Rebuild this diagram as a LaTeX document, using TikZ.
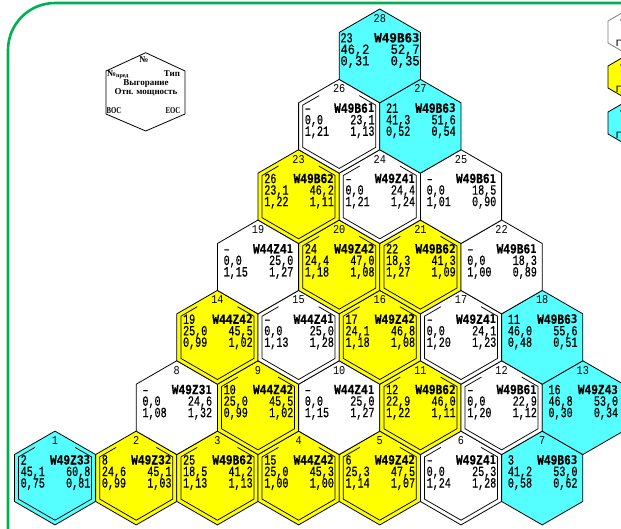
\documentclass[tikz,border=0pt]{standalone}
\usepackage{fontspec}
\setmainfont{Liberation Serif}
\newfontfamily\monofont[FakeBold=0.7]{Liberation Mono}
\newfontfamily\labfont{Liberation Mono}
\newfontfamily\lastfont{DejaVu Sans}
\newfontfamily\legfont{Liberation Serif}
\definecolor{hcyan}{HTML}{55FFFF}
\definecolor{hyellow}{HTML}{FFFF00}
\definecolor{framegreen}{HTML}{00B050}
\tikzset{
  hexline/.style={draw=black, line width=0.8pt},
  innerline/.style={draw=black, line width=0.75pt},
  numtxt/.style={inner sep=0pt, text height=8.5pt, text depth=2pt, font=\monofont\fontsize{14}{14}\selectfont},
  labtxt/.style={inner sep=0pt, text height=8pt, text depth=1pt, font=\labfont\fontsize{12}{12}\selectfont},
  legtxt/.style={inner sep=0pt, text height=6pt, text depth=1.5pt, font=\legfont\bfseries\fontsize{9}{9}\selectfont},
}
\newcommand\LastDigit[1]{{\lastfont\bfseries\fontsize{12}{12}\selectfont #1}}
\newcommand\NumT[1]{\scalebox{0.72}[1]{#1}}
\newcommand\TypeT[2]{\scalebox{0.8}[1]{\bfseries #1\LastDigit{#2}}}
\newcommand\LabT[1]{\scalebox{0.85}[1]{#1}}
% id, row, index, fill, double border (1/0)
\newcommand\HexCell[5]{%
  \pgfmathsetmacro\off{ifthenelse(#2==0,0,1+#2/2)}%
  \pgfmathsetmacro\cx{55+(\off+#3)*81.2}%
  \pgfmathsetmacro\cy{478-#2*70.35}%
  \def\hid{#1}%
  \begin{scope}[shift={(\cx,\cy)}]
    \path[fill=#4, hexline] (0,-46.9) -- (40.6,-23.45) -- (40.6,23.45) -- (0,46.9) -- (-40.6,23.45) -- (-40.6,-23.45) -- cycle;
    \ifnum#5=1
      \draw[innerline] (-20.1,-30.6) -- (-36.5,-21.1) -- (-36.5,21.1) -- (0,42.2) -- (36.5,21.1) -- (36.5,-21.1) -- (20.1,-30.6);
    \fi
    \node[labtxt, anchor=base] (n#1) at (0,-33.5) {\LabT{#1}};
  \end{scope}}
% prev, type base, last digit, b1, b2, p1, p2
\newcommand\HexText[7]{%
  \begin{scope}[shift={(\cx,\cy)}]
    \node[numtxt, anchor=base west] (a\hid) at (-34.5,-13.5) {\NumT{#1}};
    \node[numtxt, anchor=base east] (t\hid) at (35.5,-13.5) {\TypeT{#2}{#3}};
    \node[numtxt, anchor=base west] (b\hid) at (-34.5,-2) {\NumT{#4}};
    \node[numtxt, anchor=base east] (c\hid) at (35.5,-2) {\NumT{#5}};
    \node[numtxt, anchor=base west] (d\hid) at (-34.5,9.5) {\NumT{#6}};
    \node[numtxt, anchor=base east] (e\hid) at (35.5,9.5) {\NumT{#7}};
  \end{scope}}
\begin{document}
\begin{tikzpicture}[x=1pt,y=-1pt]
\useasboundingbox (0,0) rectangle (621,528);
\clip (0,0) rectangle (621,528);
\fill[white] (0,0) rectangle (621,528);

% green frame
\draw[framegreen, line width=2.6pt, rounded corners=47pt] (8,560) -- (8,3) -- (660,3);

% legend hexagon
\draw[line width=0.8pt] (145.7,52.7) -- (185,71) -- (185,114) -- (145.7,131) -- (106,114) -- (106,71) -- cycle;
\node[legtxt] (lgno) at (144,60) {№};
\node[legtxt] (lgprev) at (118,74) {№\textsubscript{пред}};
\node[legtxt] (lgtype) at (172,74) {Тип};
\node[legtxt] (lgburn) at (146,83) {Выгорание};
\node[legtxt] (lgpow) at (146,92) {Отн. мощность};
\node[legtxt] (lgboc) at (114,111) {\scalebox{0.75}[1]{BOC}};
\node[legtxt] (lgeoc) at (173,111) {\scalebox{0.75}[1]{EOC}};

% colour legend at right (cut off)
\path[fill=white, draw=gray, line width=0.8pt] (627,10) -- (646,21) -- (646,43) -- (627,54) -- (608,43) -- (608,21) -- cycle;
\path[fill=hyellow, hexline] (627,55) -- (646,66) -- (646,88) -- (627,99) -- (608,88) -- (608,66) -- cycle;
\path[fill=hcyan, hexline] (627,101) -- (646,112) -- (646,134) -- (627,145) -- (608,134) -- (608,112) -- cycle;
\node[labtxt, anchor=base west] (lw1) at (619,23) {–};
\node[labtxt, anchor=base west] (lw2) at (615,46) {г};
\node[labtxt, anchor=base west] (ly1) at (619,68) {–};
\node[labtxt, anchor=base west] (ly2) at (615,92) {г};
\node[labtxt, anchor=base west] (lc1) at (619,114) {–};
\node[labtxt, anchor=base west] (lc2) at (615,138) {г};

% row 0
\HexCell{1}{0}{0}{hcyan}{1}\HexText{2}{W49Z3}{3}{45,1}{60,8}{0,75}{0,81}
\HexCell{2}{0}{1}{hyellow}{1}\HexText{8}{W49Z3}{2}{24,6}{45,1}{0,99}{1,03}
\HexCell{3}{0}{2}{hyellow}{1}\HexText{25}{W49B6}{2}{18,5}{41,2}{1,13}{1,13}
\HexCell{4}{0}{3}{hyellow}{1}\HexText{15}{W44Z4}{2}{25,0}{45,3}{1,00}{1,00}
\HexCell{5}{0}{4}{hyellow}{1}\HexText{6}{W49Z4}{2}{25,3}{47,5}{1,14}{1,07}
\HexCell{6}{0}{5}{white}{1}\HexText{–}{W49Z4}{1}{0,0}{25,3}{1,24}{1,28}
\HexCell{7}{0}{6}{hcyan}{0}\HexText{3}{W49B6}{3}{41,2}{53,0}{0,58}{0,62}
% row 1
\HexCell{8}{1}{0}{white}{0}\HexText{–}{W49Z3}{1}{0,0}{24,6}{1,08}{1,32}
\HexCell{9}{1}{1}{hyellow}{1}\HexText{10}{W44Z4}{2}{25,0}{45,5}{0,99}{1,02}
\HexCell{10}{1}{2}{white}{0}\HexText{–}{W44Z4}{1}{0,0}{25,0}{1,15}{1,27}
\HexCell{11}{1}{3}{hyellow}{1}\HexText{12}{W49B6}{2}{22,9}{46,0}{1,22}{1,11}
\HexCell{12}{1}{4}{white}{1}\HexText{–}{W49B6}{1}{0,0}{22,9}{1,20}{1,12}
\HexCell{13}{1}{5}{hcyan}{0}\HexText{16}{W49Z4}{3}{46,8}{53,0}{0,30}{0,34}
% row 2
\HexCell{14}{2}{0}{hyellow}{1}\HexText{19}{W44Z4}{2}{25,0}{45,5}{0,99}{1,02}
\HexCell{15}{2}{1}{white}{1}\HexText{–}{W44Z4}{1}{0,0}{25,0}{1,13}{1,28}
\HexCell{16}{2}{2}{hyellow}{1}\HexText{17}{W49Z4}{2}{24,1}{46,8}{1,18}{1,08}
\HexCell{17}{2}{3}{white}{1}\HexText{–}{W49Z4}{1}{0,0}{24,1}{1,20}{1,23}
\HexCell{18}{2}{4}{hcyan}{0}\HexText{11}{W49B6}{3}{46,0}{55,6}{0,48}{0,51}
% row 3
\HexCell{19}{3}{0}{white}{0}\HexText{–}{W44Z4}{1}{0,0}{25,0}{1,15}{1,27}
\HexCell{20}{3}{1}{hyellow}{1}\HexText{24}{W49Z4}{2}{24,4}{47,0}{1,18}{1,08}
\HexCell{21}{3}{2}{hyellow}{1}\HexText{22}{W49B6}{2}{18,3}{41,3}{1,27}{1,09}
\HexCell{22}{3}{3}{white}{0}\HexText{–}{W49B6}{1}{0,0}{18,3}{1,00}{0,89}
% row 4
\HexCell{23}{4}{0}{hyellow}{1}\HexText{26}{W49B6}{2}{23,1}{46,2}{1,22}{1,11}
\HexCell{24}{4}{1}{white}{1}\HexText{–}{W49Z4}{1}{0,0}{24,4}{1,21}{1,24}
\HexCell{25}{4}{2}{white}{0}\HexText{–}{W49B6}{1}{0,0}{18,5}{1,01}{0,90}
% row 5
\HexCell{26}{5}{0}{white}{1}\HexText{–}{W49B6}{1}{0,0}{23,1}{1,21}{1,13}
\HexCell{27}{5}{1}{hcyan}{0}\HexText{21}{W49B6}{3}{41,3}{51,6}{0,52}{0,54}
% row 6 (wider text)
\HexCell{28}{6}{0}{hcyan}{0}
\begin{scope}[shift={(\cx,\cy)}]
  \node[numtxt, anchor=base west] (a28) at (-39.5,-13.5) {\NumT{23}};
  \node[numtxt, anchor=base east] (t28) at (40,-13.5) {\scalebox{0.9}[1]{\bfseries W49B6\LastDigit{3}}};
  \node[numtxt, anchor=base west] (b28) at (-39.5,-2) {\scalebox{0.86}[1]{46,2}};
  \node[numtxt, anchor=base east] (c28) at (40,-2) {\scalebox{0.86}[1]{52,7}};
  \node[numtxt, anchor=base west] (d28) at (-39.5,9.5) {\scalebox{0.86}[1]{0,31}};
  \node[numtxt, anchor=base east] (e28) at (40,9.5) {\scalebox{0.86}[1]{0,35}};
\end{scope}
\end{tikzpicture}
\end{document}
